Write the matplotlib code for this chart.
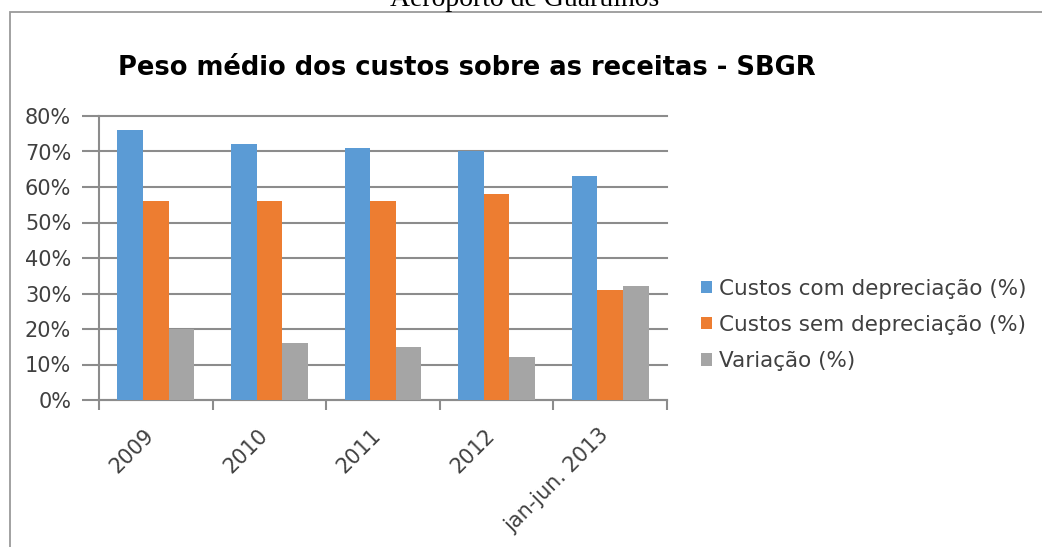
import matplotlib

matplotlib.use("Agg")
import matplotlib.pyplot as plt
from matplotlib.patches import Rectangle
from matplotlib.transforms import ScaledTranslation

categories = ["2009", "2010", "2011", "2012", "jan-jun. 2013"]
com_depreciacao = [76, 72, 71, 70, 63]
sem_depreciacao = [56, 56, 56, 58, 31]
variacao = [20, 16, 15, 12, 32]

series_names = [
    "Custos com depreciação (%)",
    "Custos sem depreciação (%)",
    "Variação (%)",
]
series_colors = ["#5B9BD5", "#ED7D31", "#A5A5A5"]
grid_color = "#8C8C8C"
text_color = "#404040"

plt.rcParams["font.family"] = ["DejaVu Sans"]

fig = plt.figure(figsize=(10.42, 5.47), dpi=100)

# outer frame and the caption cropped at the top of the page
fig.patches.append(
    Rectangle((10 / 1042, -0.05), 1.1, 1 - 12 / 547 + 0.05, transform=fig.transFigure,
              fill=False, edgecolor="#9A9A9A", linewidth=1.3)
)
fig.text(525 / 1042, 1 - 6 / 547, "Aeroporto de Guarulhos", ha="center", va="baseline",
         fontsize=20, family="Liberation Serif")

fig.text(118 / 1042, 1 - 68 / 547, "Peso médio dos custos sobre as receitas - SBGR",
         ha="left", va="center", fontsize=18.5, fontweight="bold")

ax = fig.add_axes([99 / 1042, 1 - 400 / 547, 568 / 1042, 284 / 547])

all_series = [com_depreciacao, sem_depreciacao, variacao]
bar_w = 0.225
x = list(range(len(categories)))
for i, (vals, name, color) in enumerate(zip(all_series, series_names, series_colors)):
    pos = [c + (i - 1) * bar_w for c in x]
    ax.bar(pos, vals, width=bar_w, color=color, label=name, zorder=3)

ax.set_xlim(-0.5, len(categories) - 0.5)
ax.set_ylim(0, 80)
ax.set_yticks(range(0, 81, 10))
ax.set_yticklabels([f"{v}%" for v in range(0, 81, 10)], fontsize=15, color=text_color)
ax.grid(axis="y", color=grid_color, linewidth=1.5, zorder=0)
for line in ax.get_ygridlines():
    line.set_clip_on(False)
ax.tick_params(axis="y", length=12, width=1.5, color=grid_color, pad=8)

ax.set_xticks(x)
ax.set_xticklabels(categories, rotation=45, ha="right", va="center", rotation_mode="anchor",
                   fontsize=15, color=text_color)
ax.tick_params(axis="x", which="major", length=0, pad=23)
shift = ScaledTranslation(-5 / 100, 0, fig.dpi_scale_trans)
for label in ax.get_xticklabels():
    label.set_transform(label.get_transform() + shift)
ax.set_xticks([c - 0.5 for c in range(len(categories) + 1)], minor=True)
ax.tick_params(axis="x", which="minor", length=7, width=1.5, color=grid_color)

for side in ("top", "right"):
    ax.spines[side].set_visible(False)
for side in ("left", "bottom"):
    ax.spines[side].set_color(grid_color)
    ax.spines[side].set_linewidth(1.5)

ax.legend(loc="center left", bbox_to_anchor=(682 / 1042, 1 - 325 / 547),
          bbox_transform=fig.transFigure, frameon=False, fontsize=15.5,
          handlelength=0.5, handleheight=0.5, handletextpad=0.3, labelspacing=0.75,
          labelcolor=text_color)

fig.savefig("out.png", dpi=100)
plt.close(fig)
